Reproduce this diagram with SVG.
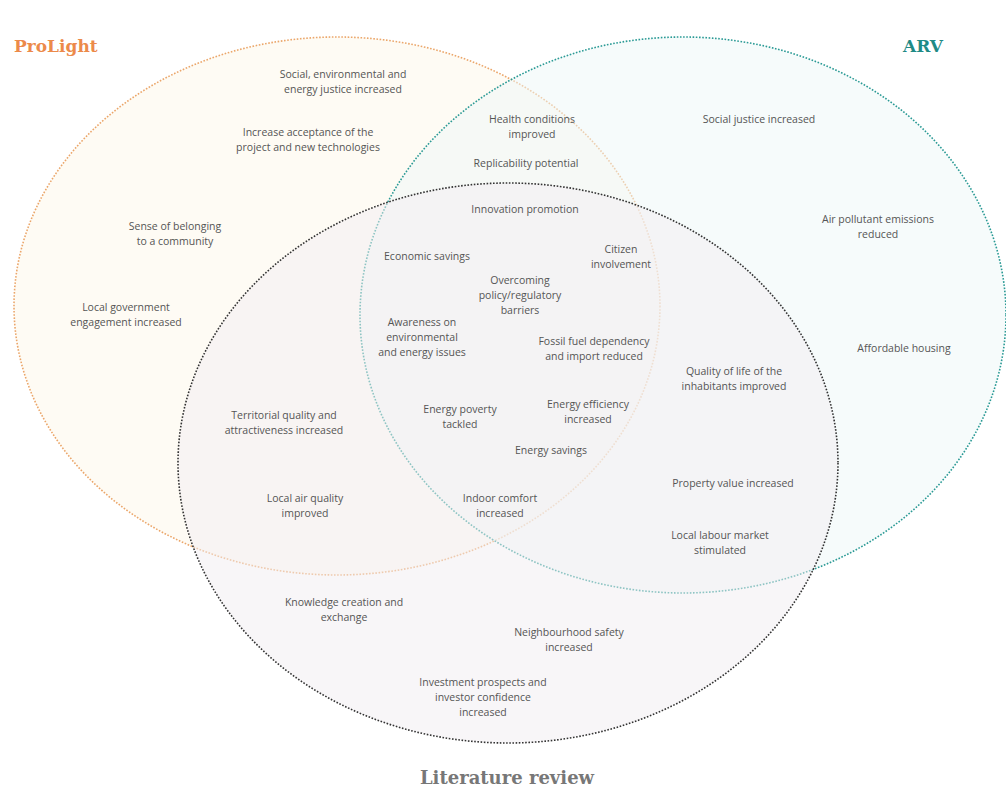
<svg xmlns="http://www.w3.org/2000/svg" width="1006" height="789" viewBox="0 0 1006 789">
<style>
.t{font-family:"Open Sans","Liberation Sans",sans-serif;font-size:10.5px;fill:#555;text-anchor:middle}
.h{font-family:"DejaVu Serif","Liberation Serif",serif;font-weight:bold}
.c{stroke-width:1.6;stroke-dasharray:1.6 1.6;fill-opacity:0.5}
</style>
<rect width="1006" height="789" fill="#ffffff"/>
<g id="circles">
<ellipse id="prolight-set" class="c" cx="337" cy="306" rx="323" ry="269" fill="#fdf8ea" stroke="#eba66a"/>
<ellipse id="arv-set" class="c" cx="683" cy="315" rx="323" ry="278" fill="#eef8f8" stroke="#2a9a95"/>
<ellipse id="literature-set" class="c" cx="508" cy="463" rx="330" ry="280" fill="#f1eef1" stroke="#333333"/>
</g>
<g id="titles">
<text id="prolight" class="h" x="14" y="52" font-size="17" fill="#ec8a4a">ProLight</text>
<text id="arv" class="h" x="943" y="52" font-size="17" fill="#1f8a86" text-anchor="end">ARV</text>
<text id="literature" class="h" x="507" y="784" font-size="18" fill="#777777" text-anchor="middle">Literature review</text>
</g>
<g id="labels">
<text class="t" x="343" y="78">Social, environmental and</text><text class="t" x="343" y="93">energy justice increased</text>
<text class="t" x="308" y="136">Increase acceptance of the</text><text class="t" x="308" y="151">project and new technologies</text>
<text class="t" x="175" y="230">Sense of belonging</text><text class="t" x="175" y="245">to a community</text>
<text class="t" x="126" y="311">Local government</text><text class="t" x="126" y="326">engagement increased</text>
<text class="t" x="532" y="123">Health conditions</text><text class="t" x="532" y="138">improved</text>
<text class="t" x="526" y="167">Replicability potential</text>
<text class="t" x="525" y="213">Innovation promotion</text>
<text class="t" x="427" y="260">Economic savings</text>
<text class="t" x="621" y="253">Citizen</text><text class="t" x="621" y="268">involvement</text>
<text class="t" x="520" y="284">Overcoming</text><text class="t" x="520" y="299">policy/regulatory</text><text class="t" x="520" y="314">barriers</text>
<text class="t" x="422" y="326">Awareness on</text><text class="t" x="422" y="341">environmental</text><text class="t" x="422" y="356">and energy issues</text>
<text class="t" x="594" y="345">Fossil fuel dependency</text><text class="t" x="594" y="360">and import reduced</text>
<text class="t" x="759" y="123">Social justice increased</text>
<text class="t" x="878" y="223">Air pollutant emissions</text><text class="t" x="878" y="238">reduced</text>
<text class="t" x="904" y="352">Affordable housing</text>
<text class="t" x="734" y="375">Quality of life of the</text><text class="t" x="734" y="390">inhabitants improved</text>
<text class="t" x="284" y="419">Territorial quality and</text><text class="t" x="284" y="434">attractiveness increased</text>
<text class="t" x="460" y="413">Energy poverty</text><text class="t" x="460" y="428">tackled</text>
<text class="t" x="588" y="408">Energy efficiency</text><text class="t" x="588" y="423">increased</text>
<text class="t" x="551" y="454">Energy savings</text>
<text class="t" x="305" y="502">Local air quality</text><text class="t" x="305" y="517">improved</text>
<text class="t" x="500" y="502">Indoor comfort</text><text class="t" x="500" y="517">increased</text>
<text class="t" x="733" y="487">Property value increased</text>
<text class="t" x="720" y="539">Local labour market</text><text class="t" x="720" y="554">stimulated</text>
<text class="t" x="344" y="606">Knowledge creation and</text><text class="t" x="344" y="621">exchange</text>
<text class="t" x="569" y="636">Neighbourhood safety</text><text class="t" x="569" y="651">increased</text>
<text class="t" x="483" y="686">Investment prospects and</text><text class="t" x="483" y="701">investor confidence</text><text class="t" x="483" y="716">increased</text>
</g>
</svg>
